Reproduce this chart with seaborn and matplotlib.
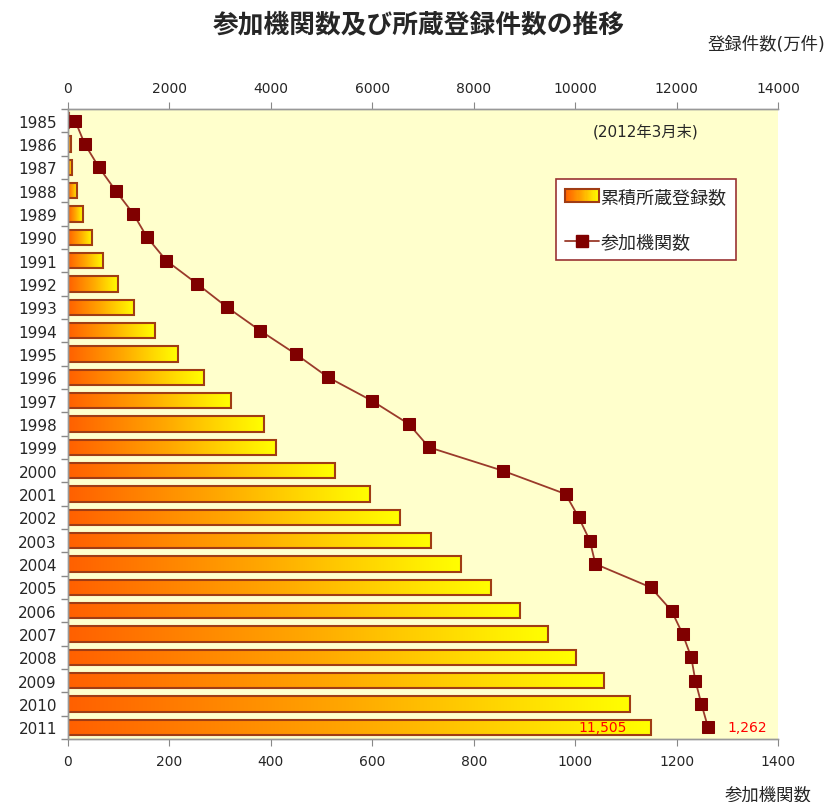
import numpy as np
import pandas as pd
import matplotlib
matplotlib.use('Agg')
import matplotlib.pyplot as plt
import seaborn as sns
from matplotlib.colors import LinearSegmentedColormap
from matplotlib.patches import Rectangle
from matplotlib.lines import Line2D
from matplotlib.legend_handler import HandlerBase
from matplotlib.ticker import FixedLocator

###################################################################################
# data

years = [str(y) for y in range(1985, 2012)]
# 累積所蔵登録数 (万件)
registrations = [10, 60, 70, 180, 290, 480, 695, 986, 1307, 1709, 2169, 2676, 3214,
                 3858, 4101, 5260, 5955, 6540, 7158, 7749, 8341, 8903, 9473, 10013,
                 10573, 11082, 11505]
# 参加機関数
institutions = [14, 33, 61, 94, 129, 156, 194, 255, 314, 379, 449, 513, 599,
                672, 712, 857, 981, 1007, 1029, 1040, 1149, 1190, 1212, 1229,
                1237, 1249, 1262]

title = '参加機関数及び所蔵登録件数の推移'
top_label = '登録件数(万件)'
bottom_label = '参加機関数'
note = '(2012年3月末)'
bar_name = '累積所蔵登録数'
line_name = '参加機関数'

df = pd.DataFrame({'year': years, 'reg': registrations, 'inst': institutions})

###################################################################################
# style

sns.set_style('white')
plt.rcParams['font.family'] = ['DejaVu Sans', 'Noto Sans CJK JP']

grad = LinearSegmentedColormap.from_list('grad', ['#FF6000', '#FFA800', '#FFFF00'])
bar_edge = '#A03C14'
line_col = '#9A3A2A'
mark_col = '#800000'

fig = plt.figure(figsize=(8.25, 8.03), dpi=100)
ax = fig.add_axes([68/825, 1-740/803, 710/825, 630/803])
ax.set_facecolor('#FFFFCC')

###################################################################################
# bars (top axis)

sns.barplot(data=df, x='reg', y='year', orient='h', ax=ax, width=0.66,
            color='#FFA800', edgecolor=bar_edge, linewidth=1.5)

gimg = np.linspace(0, 1, 256).reshape(1, -1)
for p in ax.patches:
    x0, y0 = p.get_x(), p.get_y()
    w, h = p.get_width(), p.get_height()
    p.set_facecolor('none')
    p.set_zorder(2)
    im = ax.imshow(gimg, cmap=grad, aspect='auto', extent=(x0, x0 + w, y0 + h, y0),
                   zorder=1.5, interpolation='bilinear')
    im.set_clip_path(p)

ax.set_xlim(0, 14000)
ax.set_ylim(26.5, -0.5)

###################################################################################
# line (bottom axis)

ax2 = ax.twiny()
sns.lineplot(data=df, x='inst', y='year', orient='y', sort=False, estimator=None,
             ax=ax2, color=line_col, linewidth=1.3, marker='s', markersize=8,
             markerfacecolor=mark_col, markeredgecolor=mark_col)
ax2.set_xlim(0, 1400)

# axis placement: bars on top scale, line on bottom scale
ax.xaxis.tick_top()
ax.xaxis.set_label_position('top')
ax2.xaxis.tick_bottom()
ax2.xaxis.set_label_position('bottom')

ax.set_xticks(range(0, 14001, 2000))
ax2.set_xticks(range(0, 1401, 200))
for a in (ax, ax2):
    a.set_xlabel('')
    a.set_ylabel('')
ax.tick_params(axis='x', which='major', direction='out', length=5, color='#888888',
               labelsize=10, pad=5, top=True, bottom=False, labeltop=True, labelbottom=False)
ax2.tick_params(axis='x', direction='out', length=5, color='#888888', labelsize=10, pad=6,
                top=False, bottom=True, labeltop=False, labelbottom=True)
ax.tick_params(axis='y', which='major', length=0, labelsize=11, pad=8)
ax.yaxis.set_minor_locator(FixedLocator(np.arange(-0.5, 27, 1)))
ax.tick_params(axis='y', which='minor', direction='out', length=5, width=1,
               color='#888888', left=True)

for a in (ax, ax2):
    a.spines['right'].set_visible(False)
    for s in ('top', 'bottom', 'left'):
        a.spines[s].set_color('#999999')
        a.spines[s].set_linewidth(1)

###################################################################################
# labels

ax.annotate(f'{registrations[-1]:,}', xy=(registrations[-1], years[-1]),
            xytext=(-18, 0), textcoords='offset points', ha='right', va='center',
            color='#FF0000', fontsize=10)
ax2.annotate(f'{institutions[-1]:,}', xy=(institutions[-1], years[-1]),
             xytext=(14, 0), textcoords='offset points', ha='left', va='center',
             color='#FF0000', fontsize=10)

fig.text(419/825, 1-25/803, title, ha='center', va='center', fontsize=18.5,
         fontweight='bold', family=['Noto Sans CJK JP'])
fig.text(1.0, 1-45/803, top_label, ha='right', va='center', fontsize=12.5)
fig.text(812/825, 1-795/803, bottom_label, ha='right', va='center', fontsize=12.5)
ax2.text(0.814, 0.965, note, transform=ax2.transAxes, ha='center', va='center', fontsize=11)

###################################################################################
# legend


class GradHandler(HandlerBase):
    def create_artists(self, legend, orig, xd, yd, w, h, fontsize, trans):
        n = 30
        arts = []
        for i in range(n):
            arts.append(Rectangle((-xd + w*i/n, -yd), w/n + 0.2, h, facecolor=grad(i/(n-1)),
                                  edgecolor='none', transform=trans))
        arts.append(Rectangle((-xd, -yd), w, h, facecolor='none', edgecolor=bar_edge,
                              lw=1.5, transform=trans))
        return arts


bar_handle = Rectangle((0, 0), 1, 1)
line_handle = Line2D([], [], color=line_col, lw=1.3, marker='s', markersize=8,
                     markerfacecolor=mark_col, markeredgecolor=mark_col)
leg = ax2.legend([bar_handle, line_handle], [bar_name, line_name],
                 handler_map={bar_handle: GradHandler()},
                 loc='upper left', bbox_to_anchor=(0.687, 0.889), borderaxespad=0,
                 fontsize=13, fancybox=False, framealpha=1, edgecolor='#993333',
                 handlelength=1.9, labelspacing=1.5, handletextpad=0.08,
                 borderpad=0.5)
leg.get_frame().set_linewidth(1.2)

fig.savefig('out.png', dpi=100)
